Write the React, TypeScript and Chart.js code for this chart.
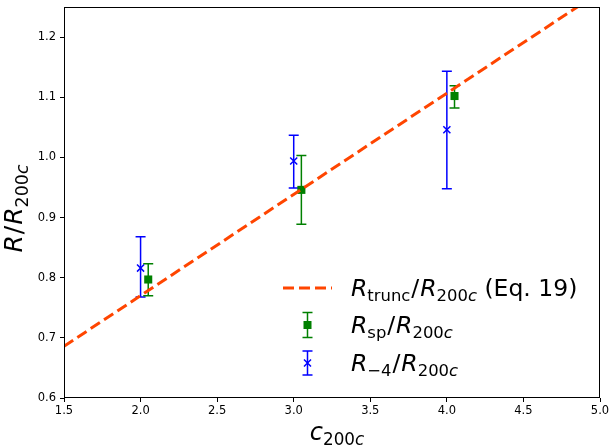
import React, { useEffect, useRef } from 'react';
import { Chart, registerables } from 'chart.js';

Chart.register(...registerables);

// ---- data ----
const xTicks = [1.5, 2.0, 2.5, 3.0, 3.5, 4.0, 4.5, 5.0];
const yTicks = [0.6, 0.7, 0.8, 0.9, 1.0, 1.1, 1.2];

const truncX = [1.5, 5.0];
const truncY = [0.686, 1.275];

const spX = [2.05, 3.05, 4.05];
const spY = [0.797, 0.946, 1.102];
const spLow = [0.770, 0.889, 1.082];
const spHigh = [0.823, 1.003, 1.119];

const m4X = [2.0, 3.0, 4.0];
const m4Y = [0.816, 0.994, 1.046];
const m4Low = [0.768, 0.949, 0.948];
const m4High = [0.868, 1.037, 1.143];

const ORANGE = '#ff4500';
const GREEN = '#008000';
const BLUE = '#0000ff';
const FAM = "'DejaVu Sans'";

type Part = { t: string; it?: boolean; sub?: boolean };

function fontFor(p: Part, size: number) {
  const s = p.sub ? size * 0.7 : size;
  return `${p.it ? 'italic ' : ''}${s}px ${FAM}`;
}

function measureRich(ctx: CanvasRenderingContext2D, parts: Part[], size: number) {
  let w = 0;
  for (const p of parts) {
    ctx.font = fontFor(p, size);
    w += ctx.measureText(p.t).width + (p.t === '/' ? size * 0.08 : 0);
  }
  return w;
}

function drawRich(ctx: CanvasRenderingContext2D, parts: Part[], x: number, y: number, size: number, align: 'left' | 'center') {
  let cx = align === 'center' ? x - measureRich(ctx, parts, size) / 2 : x;
  ctx.textAlign = 'left';
  ctx.textBaseline = 'alphabetic';
  for (const p of parts) {
    ctx.font = fontFor(p, size);
    const dy = p.sub ? size * 0.22 : 0;
    const extra = p.t === '/' ? size * 0.04 : 0;
    ctx.fillText(p.t, cx + extra, y + dy);
    cx += ctx.measureText(p.t).width + extra * 2;
  }
}

const R200: Part[] = [{ t: 'R', it: true }, { t: '200', sub: true }, { t: 'c', it: true, sub: true }];
const yTitle: Part[] = [{ t: 'R', it: true }, { t: '/' }, ...R200];
const xTitle: Part[] = [{ t: 'c', it: true }, { t: '200', sub: true }, { t: 'c', it: true, sub: true }];
const legTrunc: Part[] = [{ t: 'R', it: true }, { t: 'trunc', sub: true }, { t: '/' }, ...R200, { t: ' (Eq. 19)' }];
const legSp: Part[] = [{ t: 'R', it: true }, { t: 'sp', sub: true }, { t: '/' }, ...R200];
const legM4: Part[] = [{ t: 'R', it: true }, { t: '\u22124', sub: true }, { t: '/' }, ...R200];

function errBar(ctx: CanvasRenderingContext2D, x: number, top: number, bot: number, color: string) {
  ctx.save();
  ctx.strokeStyle = color;
  ctx.lineWidth = 1.5;
  ctx.beginPath();
  ctx.moveTo(x, top);
  ctx.lineTo(x, bot);
  ctx.moveTo(x - 5, top);
  ctx.lineTo(x + 5, top);
  ctx.moveTo(x - 5, bot);
  ctx.lineTo(x + 5, bot);
  ctx.stroke();
  ctx.restore();
}

const overlay = {
  id: 'overlay',
  beforeDatasetsDraw(chart: any) {
    const ctx: CanvasRenderingContext2D = chart.ctx;
    const xs = chart.scales.x;
    const ys = chart.scales.y;
    const a = chart.chartArea;
    ctx.save();
    ctx.beginPath();
    ctx.rect(a.left, a.top, a.right - a.left, a.bottom - a.top);
    ctx.clip();
    m4X.forEach((v, i) => {
      errBar(ctx, xs.getPixelForValue(v), ys.getPixelForValue(m4High[i]), ys.getPixelForValue(m4Low[i]), BLUE);
    });
    spX.forEach((v, i) => {
      errBar(ctx, xs.getPixelForValue(v), ys.getPixelForValue(spHigh[i]), ys.getPixelForValue(spLow[i]), GREEN);
    });
    ctx.restore();
  },
  afterDraw(chart: any) {
    const ctx: CanvasRenderingContext2D = chart.ctx;
    const a = chart.chartArea;
    ctx.save();
    // frame
    ctx.strokeStyle = '#000';
    ctx.lineWidth = 1;
    ctx.strokeRect(Math.round(a.left) + 0.5, Math.round(a.top) + 0.5, Math.round(a.right - a.left) - 1, Math.round(a.bottom - a.top) - 1);
    ctx.fillStyle = '#000';
    // x title
    drawRich(ctx, xTitle, (a.left + a.right) / 2 + 5, a.bottom + 42, 24, 'center');
    // y title
    ctx.save();
    ctx.translate(22, (a.top + a.bottom) / 2 + 6);
    ctx.rotate(-Math.PI / 2);
    drawRich(ctx, yTitle, 0, 0, 25, 'center');
    ctx.restore();
    // legend
    const lx0 = a.right - 317;
    const tx = a.right - 249;
    const r1 = a.bottom - 110;
    const r2 = a.bottom - 73;
    const r3 = a.bottom - 35;
    ctx.save();
    ctx.strokeStyle = ORANGE;
    ctx.lineWidth = 3;
    ctx.setLineDash([11, 5]);
    ctx.beginPath();
    ctx.moveTo(lx0, r1);
    ctx.lineTo(lx0 + 49, r1);
    ctx.stroke();
    ctx.restore();
    const mx = lx0 + 24.5;
    errBar(ctx, mx, r2 - 12.5, r2 + 12.5, GREEN);
    ctx.fillStyle = GREEN;
    ctx.fillRect(mx - 4, r2 - 4, 8, 8);
    errBar(ctx, mx, r3 - 12, r3 + 12, BLUE);
    ctx.strokeStyle = BLUE;
    ctx.lineWidth = 1.5;
    ctx.beginPath();
    ctx.moveTo(mx - 3.5, r3 - 3.5);
    ctx.lineTo(mx + 3.5, r3 + 3.5);
    ctx.moveTo(mx + 3.5, r3 - 3.5);
    ctx.lineTo(mx - 3.5, r3 + 3.5);
    ctx.stroke();
    ctx.fillStyle = '#000';
    drawRich(ctx, legTrunc, tx, r1 + 8, 23.5, 'left');
    drawRich(ctx, legSp, tx, r2 + 8, 23.5, 'left');
    drawRich(ctx, legM4, tx, r3 + 8, 23.5, 'left');
    ctx.restore();
  },
};

export default function App() {
  const ref = useRef<HTMLCanvasElement | null>(null);
  useEffect(() => {
    if (!ref.current) return;
    const chart = new Chart(ref.current, {
      type: 'scatter',
      data: {
        datasets: [
          {
            label: 'trunc',
            data: truncX.map((x, i) => ({ x, y: truncY[i] })),
            showLine: true,
            borderColor: ORANGE,
            borderWidth: 3,
            borderDash: [11, 5],
            pointRadius: 0,
            fill: false,
          } as any,
          {
            label: 'sp',
            data: spX.map((x, i) => ({ x, y: spY[i] })),
            pointStyle: 'rect',
            pointRadius: 5.7,
            backgroundColor: GREEN,
            borderColor: GREEN,
            borderWidth: 0,
          },
          {
            label: 'm4',
            data: m4X.map((x, i) => ({ x, y: m4Y[i] })),
            pointStyle: 'crossRot',
            pointRadius: 5,
            borderColor: BLUE,
            backgroundColor: BLUE,
            borderWidth: 1.5,
          },
        ],
      },
      options: {
        animation: false,
        responsive: false,
        events: [],
        layout: { padding: { top: 7, right: 11, left: 0, bottom: 0 } },
        plugins: { legend: { display: false }, tooltip: { enabled: false } },
        scales: {
          x: {
            type: 'linear',
            min: 1.5,
            max: 5.0,
            afterFit: (s: any) => { s.height = 50; s.paddingLeft = 0; s.paddingRight = 0; },
            afterBuildTicks: (s: any) => { s.ticks = xTicks.map((v) => ({ value: v })); },
            ticks: {
              color: '#000',
              font: { family: FAM, size: 11.5 },
              padding: 2,
              maxRotation: 0,
              callback: (v: any) => Number(v).toFixed(1),
            },
            grid: { drawOnChartArea: false, drawTicks: true, tickLength: 4, tickColor: '#000', color: '#000' },
            border: { display: false },
          },
          y: {
            type: 'linear',
            min: 0.6,
            max: 1.25,
            afterFit: (s: any) => { s.width = 64; s.paddingTop = 0; s.paddingBottom = 0; },
            afterBuildTicks: (s: any) => { s.ticks = yTicks.map((v) => ({ value: v })); },
            ticks: {
              color: '#000',
              font: { family: FAM, size: 11.5 },
              padding: 4,
              callback: (v: any) => Number(v).toFixed(1),
            },
            grid: { drawOnChartArea: false, drawTicks: true, tickLength: 4, tickColor: '#000', color: '#000' },
            border: { display: false },
          },
        },
      },
      plugins: [overlay],
    });
    return () => chart.destroy();
  }, []);
  return (
    <div style={{ position: 'absolute', left: 0, top: 0, width: 611, height: 448, background: '#fff' }}>
      <canvas ref={ref} width={611} height={448} />
    </div>
  );
}
